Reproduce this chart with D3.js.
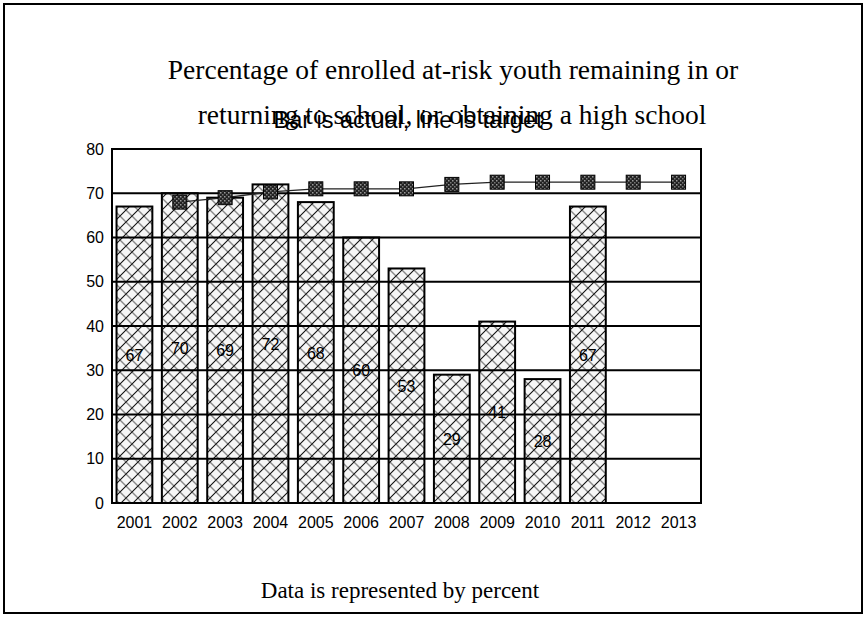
<!DOCTYPE html>
<html>
<head>
<meta charset="utf-8">
<script src="https://cdn.jsdelivr.net/npm/d3@7"></script>
<style>
  html, body { margin: 0; padding: 0; background: #fff; }
  svg { display: block; }
</style>
</head>
<body>
<script>
// Chart data
const years = ["2001","2002","2003","2004","2005","2006","2007","2008","2009","2010","2011","2012","2013"];
const actualYears = ["2001","2002","2003","2004","2005","2006","2007","2008","2009","2010","2011"];
const actualValues = [67, 70, 69, 72, 68, 60, 53, 29, 41, 28, 67];
const targetYears = ["2002","2003","2004","2005","2006","2007","2008","2009","2010","2011","2012","2013"];
const targetValues = [68, 69, 70.3, 71, 71, 71, 72, 72.5, 72.5, 72.5, 72.5, 72.5];
const yTicks = [0, 10, 20, 30, 40, 50, 60, 70, 80];

const W = 867, H = 621;
const margin = { left: 112, right: 166, top: 149, bottom: 118 };

const svg = d3.select("body").append("svg").attr("width", W).attr("height", H);
const defs = svg.append("defs");

// Lattice fill for the bars
const pat = defs.append("pattern")
  .attr("id", "lattice").attr("patternUnits", "userSpaceOnUse")
  .attr("width", 12).attr("height", 12);
pat.append("rect").attr("width", 12).attr("height", 12).attr("fill", "#f6f6f6");
pat.append("path").attr("d", "M0,0 L12,12 M-3,9 L3,15 M9,-3 L15,3")
  .attr("stroke", "#8a8a8a").attr("stroke-width", 1.4);
pat.append("path").attr("d", "M12,0 L0,12 M-3,3 L3,-3 M9,15 L15,9")
  .attr("stroke", "#111").attr("stroke-width", 1.1);

// Speckled fill for the target markers
const mp = defs.append("pattern")
  .attr("id", "speck").attr("patternUnits", "userSpaceOnUse")
  .attr("width", 4).attr("height", 4);
mp.append("rect").attr("width", 4).attr("height", 4).attr("fill", "#222");
mp.append("rect").attr("x", 0).attr("y", 0).attr("width", 1.5).attr("height", 1.5).attr("fill", "#999");
mp.append("rect").attr("x", 2).attr("y", 2).attr("width", 1.5).attr("height", 1.5).attr("fill", "#777");

// Outer frame
svg.append("rect").attr("x", 4).attr("y", 4).attr("width", 858).attr("height", 609)
  .attr("fill", "none").attr("stroke", "#000").attr("stroke-width", 2);

const x = d3.scaleBand().domain(years)
  .range([margin.left, W - margin.right]).paddingInner(0.21).paddingOuter(0.1);
const y = d3.scaleLinear().domain([0, 80]).range([H - margin.bottom, margin.top]);

// Title
const serif = "'Liberation Serif','Times New Roman',serif";
const sans = "'Liberation Sans',Arial,sans-serif";
svg.append("text").attr("x", 453).attr("y", 79).attr("text-anchor", "middle")
  .attr("font-family", serif).attr("font-size", 27.5)
  .text("Percentage of enrolled at-risk youth remaining in or");
svg.append("text").attr("x", 452).attr("y", 124).attr("text-anchor", "middle")
  .attr("font-family", serif).attr("font-size", 27.5)
  .text("returning to school, or obtaining a high school");
svg.append("text").attr("x", 408).attr("y", 128).attr("text-anchor", "middle")
  .attr("font-family", sans).attr("font-size", 23.5)
  .text("Bar is actual, line is target");

// Bars
svg.append("g").selectAll("rect").data(actualYears).join("rect")
  .attr("x", d => x(d))
  .attr("y", (d, i) => y(actualValues[i]))
  .attr("width", x.bandwidth())
  .attr("height", (d, i) => y(0) - y(actualValues[i]))
  .attr("fill", "url(#lattice)")
  .attr("stroke", "#000").attr("stroke-width", 2);

// Horizontal gridlines
svg.append("g").selectAll("line").data(yTicks.filter(t => t > 0 && t < 80)).join("line")
  .attr("x1", margin.left).attr("x2", W - margin.right)
  .attr("y1", d => y(d)).attr("y2", d => y(d))
  .attr("stroke", "#000").attr("stroke-width", 2);

// Plot frame
svg.append("rect").attr("x", margin.left).attr("y", margin.top)
  .attr("width", W - margin.right - margin.left).attr("height", y(0) - margin.top)
  .attr("fill", "none").attr("stroke", "#000").attr("stroke-width", 2);

// Value labels in the middle of each bar
svg.append("g").selectAll("text").data(actualYears).join("text")
  .attr("x", d => x(d) + x.bandwidth() / 2)
  .attr("y", (d, i) => y(actualValues[i] / 2) + 6)
  .attr("text-anchor", "middle")
  .attr("font-family", sans).attr("font-size", 16)
  .text((d, i) => actualValues[i]);

// Target line
const line = d3.line().x((d, i) => x(targetYears[i]) + x.bandwidth() / 2).y(d => y(d));
svg.append("path").datum(targetValues).attr("d", line)
  .attr("fill", "none").attr("stroke", "#222").attr("stroke-width", 1.3);
svg.append("g").selectAll("rect").data(targetValues).join("rect")
  .attr("x", (d, i) => x(targetYears[i]) + x.bandwidth() / 2 - 7)
  .attr("y", d => y(d) - 7)
  .attr("width", 14).attr("height", 14)
  .attr("fill", "url(#speck)").attr("stroke", "#000").attr("stroke-width", 1);

// Axes
const yAxis = d3.axisLeft(y).tickValues(yTicks).tickSize(0).tickPadding(8);
const gy = svg.append("g").attr("transform", `translate(${margin.left},0)`).call(yAxis);
gy.select(".domain").remove();
gy.selectAll("text").attr("font-family", sans).attr("font-size", 16).attr("fill", "#000");

const xAxis = d3.axisBottom(x).tickSize(0).tickPadding(14);
const gx = svg.append("g").attr("transform", `translate(0,${y(0)})`).call(xAxis);
gx.select(".domain").remove();
gx.selectAll("text").attr("font-family", sans).attr("font-size", 16).attr("fill", "#000");

// Footer note
svg.append("text").attr("x", 400).attr("y", 598).attr("text-anchor", "middle")
  .attr("font-family", serif).attr("font-size", 23)
  .text("Data is represented by percent");
</script>
</body>
</html>
